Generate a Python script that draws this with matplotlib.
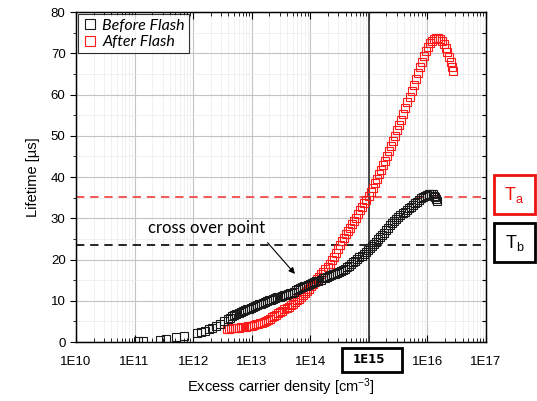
import numpy as np
import matplotlib
matplotlib.use("Agg")
import matplotlib.pyplot as plt
from matplotlib.patches import Rectangle

# values: log10(density / cm^-3) and lifetime in us
before_logn = [11.06, 11.14, 11.43, 11.54, 11.71, 11.84, 12.06, 12.13, 12.20, 12.27,
               12.32, 12.39, 12.46, 12.53, 12.60, 12.635, 12.67, 12.705, 12.74, 12.775,
               12.81, 12.845, 12.88, 12.915, 12.95, 12.985, 13.02, 13.055, 13.09, 13.125,
               13.16, 13.195, 13.23, 13.265, 13.30, 13.335, 13.37, 13.405, 13.44, 13.475,
               13.51, 13.545, 13.58, 13.615, 13.65, 13.685, 13.72, 13.755, 13.79, 13.825,
               13.86, 13.895, 13.93, 13.965, 14.00, 14.035, 14.07, 14.105, 14.14, 14.175,
               14.21, 14.245, 14.28, 14.315, 14.35, 14.385, 14.42, 14.455, 14.49, 14.525,
               14.56, 14.595, 14.63, 14.665, 14.70, 14.735, 14.77, 14.805, 14.84, 14.875,
               14.91, 14.945, 14.98, 15.015, 15.05, 15.085, 15.12, 15.155, 15.19, 15.225,
               15.26, 15.295, 15.33, 15.365, 15.40, 15.435, 15.47, 15.505, 15.54, 15.575,
               15.61, 15.645, 15.68, 15.715, 15.75, 15.785, 15.82, 15.855, 15.89, 15.925,
               15.96, 15.995, 16.03, 16.065, 16.09, 16.11, 16.13, 16.15, 16.16]
before_tau = [0.3, 0.3, 0.5, 0.7, 1.2, 1.5, 2.2, 2.5, 2.7, 3.1,
              3.4, 3.9, 4.4, 5.0, 5.6, 5.9, 6.2, 6.5, 6.8, 7.0,
              7.3, 7.5, 7.7, 7.9, 8.1, 8.3, 8.5, 8.7, 8.9, 9.1,
              9.3, 9.5, 9.7, 9.9, 10.1, 10.3, 10.5, 10.7, 10.8, 11.0,
              11.1, 11.3, 11.4, 11.6, 11.8, 12.0, 12.2, 12.5, 12.8, 13.0,
              13.3, 13.5, 13.7, 13.9, 14.1, 14.3, 14.5, 14.7, 14.9, 15.1,
              15.4, 15.6, 15.8, 16.0, 16.2, 16.4, 16.6, 16.8, 17.0, 17.2,
              17.5, 17.8, 18.1, 18.5, 18.9, 19.3, 19.7, 20.1, 20.5, 20.9,
              21.3, 21.8, 22.3, 22.8, 23.3, 23.8, 24.3, 24.9, 25.4, 26.0,
              26.5, 27.1, 27.7, 28.3, 28.8, 29.3, 29.8, 30.3, 30.7, 31.2,
              31.6, 32.0, 32.4, 32.8, 33.2, 33.6, 34.0, 34.4, 34.8, 35.1,
              35.4, 35.7, 35.9, 36.0, 35.8, 35.5, 35.1, 34.6, 34.2]

after_logn = [12.58, 12.615, 12.65, 12.685, 12.72, 12.755, 12.79, 12.825, 12.86, 12.895,
              12.93, 12.965, 13.00, 13.035, 13.07, 13.105, 13.14, 13.175, 13.21, 13.245,
              13.28, 13.315, 13.35, 13.385, 13.42, 13.455, 13.49, 13.525, 13.56, 13.595,
              13.63, 13.665, 13.70, 13.735, 13.77, 13.805, 13.84, 13.875, 13.91, 13.945,
              13.98, 14.015, 14.05, 14.085, 14.12, 14.155, 14.19, 14.225, 14.26, 14.295,
              14.33, 14.365, 14.40, 14.435, 14.47, 14.505, 14.54, 14.575, 14.61, 14.645,
              14.68, 14.715, 14.75, 14.785, 14.82, 14.855, 14.89, 14.925, 14.96, 14.995,
              15.03, 15.065, 15.10, 15.135, 15.17, 15.205, 15.24, 15.275, 15.31, 15.345,
              15.38, 15.415, 15.45, 15.485, 15.52, 15.555, 15.59, 15.625, 15.66, 15.695,
              15.73, 15.765, 15.80, 15.835, 15.87, 15.905, 15.94, 15.975, 16.01, 16.045,
              16.08, 16.115, 16.15, 16.185, 16.22, 16.25, 16.28, 16.31, 16.34, 16.37,
              16.40, 16.42, 16.44]
after_tau = [3.2, 3.25, 3.3, 3.35, 3.4, 3.45, 3.5, 3.55, 3.6, 3.7,
             3.8, 3.9, 4.0, 4.1, 4.3, 4.4, 4.6, 4.7, 4.9, 5.1,
             5.4, 5.7, 6.0, 6.3, 6.6, 7.0, 7.3, 7.6, 7.9, 8.2,
             8.6, 8.9, 9.3, 9.7, 10.1, 10.5, 11.0, 11.5, 11.9, 12.4,
             12.9, 13.5, 14.0, 14.6, 15.2, 15.8, 16.4, 17.0, 17.6, 18.3,
             19.0, 19.8, 20.7, 21.6, 22.6, 23.6, 24.5, 25.3, 26.1, 26.9,
             27.7, 28.5, 29.3, 30.1, 31.0, 31.9, 32.8, 33.6, 34.5, 35.4,
             36.4, 37.4, 38.5, 39.6, 40.7, 41.8, 42.9, 44.0, 45.2, 46.4,
             47.6, 48.8, 50.0, 51.3, 52.6, 53.9, 55.3, 56.7, 58.1, 59.5,
             60.9, 62.3, 63.8, 65.2, 66.6, 68.0, 69.3, 70.5, 71.5, 72.4,
             73.0, 73.4, 73.6, 73.6, 73.4, 73.0, 72.3, 71.4, 70.3, 69.1,
             67.8, 66.7, 65.6]

tau_a = 35.1
tau_b = 23.5
n_mark = 1e15
xtick_exp = [10, 11, 12, 13, 14, 15, 16, 17]

assert len(before_logn) == len(before_tau)
assert len(after_logn) == len(after_tau)

plt.rcParams["font.family"] = ["Liberation Sans", "DejaVu Sans"]
plt.rcParams["mathtext.default"] = "regular"

fig = plt.figure(figsize=(5.37, 4.01), dpi=100)
ax = fig.add_axes([0.1415, 0.1471, 0.7635, 0.8229])

ax.plot(10 ** np.array(before_logn), before_tau, ls="none", marker="s", ms=6,
        mfc="none", mec="#1a1a1a", mew=0.8, label="Before Flash", zorder=4)
ax.plot(10 ** np.array(after_logn), after_tau, ls="none", marker="s", ms=6,
        mfc="none", mec="#ff1a1a", mew=0.8, label="After Flash", zorder=3)

ax.axhline(tau_a, color="#f03c3c", lw=1.2, dashes=(5, 3.5), zorder=2)
ax.axhline(tau_b, color="black", lw=1.2, dashes=(5, 3.5), zorder=2)
ax.axvline(n_mark, color="#3a3a3a", lw=1.3, zorder=2)

ax.set_xscale("log")
ax.set_xlim(1e10, 1e17)
ax.set_ylim(0, 80)
ax.set_xticks([10.0 ** e for e in xtick_exp])
ax.set_xticklabels(["" if e == 15 else f"1E{e}" for e in xtick_exp])
ax.set_yticks(np.arange(0, 81, 10))
ax.set_yticks(np.arange(5, 80, 10), minor=True)

ax.grid(True, which="major", color="#c4c4c4", lw=0.8)
ax.grid(True, which="minor", color="#ececec", lw=0.5)
ax.set_axisbelow(True)

ax.tick_params(axis="both", labelsize=9.5)
ax.tick_params(axis="y", which="both", direction="out", right=False)
ax.tick_params(axis="y", which="major", length=4)
ax.tick_params(axis="y", which="minor", length=2.5)
ax.tick_params(axis="x", which="both", direction="in", top=True)
ax.tick_params(axis="x", which="major", length=5, pad=10)
ax.tick_params(axis="x", which="minor", length=3)
for sp in ax.spines.values():
    sp.set_linewidth(1.0)

# right side ticks every 5, inward
ax_r = ax.twinx()
ax_r.set_ylim(0, 80)
ax_r.set_yticks(np.arange(5, 80, 5))
ax_r.tick_params(axis="y", direction="in", length=3, labelright=False)

ax.set_xlabel("Excess carrier density [cm$^{-3}$]", fontsize=10.5, labelpad=6)
ax.set_ylabel("Lifetime [µs]", fontsize=10.5, labelpad=8)

ax.text(10 ** 11.23, 27.6, "cross over point", family=["Lato", "DejaVu Sans"],
        fontsize=12, ha="left", va="center")
ax.annotate("", xy=(10 ** 13.77, 16.0), xytext=(10 ** 13.24, 24.6),
            arrowprops=dict(arrowstyle="-|>", color="black", lw=0.8,
                            mutation_scale=9))

leg = ax.legend(loc="upper left", frameon=True, fancybox=False, borderpad=0.25,
                handletextpad=0.25, handlelength=1.0, borderaxespad=0.15,
                labelspacing=0.15, markerscale=1.3,
                prop={"family": ["Lato", "DejaVu Sans"], "style": "italic", "size": 11.5})
leg.get_frame().set_edgecolor("black")
leg.get_frame().set_linewidth(0.8)

# boxed labels outside the plot area
fig.add_artist(Rectangle((0.919, 0.466), 0.078, 0.097, transform=fig.transFigure,
                         fill=False, ec="#ee1111", lw=2))
fig.text(0.958, 0.514, "T$_a$", color="#ee1111", fontsize=13, ha="center", va="center")
fig.add_artist(Rectangle((0.919, 0.347), 0.078, 0.097, transform=fig.transFigure,
                         fill=False, ec="black", lw=2))
fig.text(0.958, 0.395, "T$_b$", color="black", fontsize=13, ha="center", va="center")
fig.add_artist(Rectangle((0.637, 0.072), 0.112, 0.060, transform=fig.transFigure,
                         fill=False, ec="black", lw=2))
ax.text(n_mark, -0.0545, "1E15", transform=ax.get_xaxis_transform(), fontsize=8.5,
        fontweight="bold", family="DejaVu Sans", ha="center", va="center")

fig.savefig("out.png", dpi=100)
